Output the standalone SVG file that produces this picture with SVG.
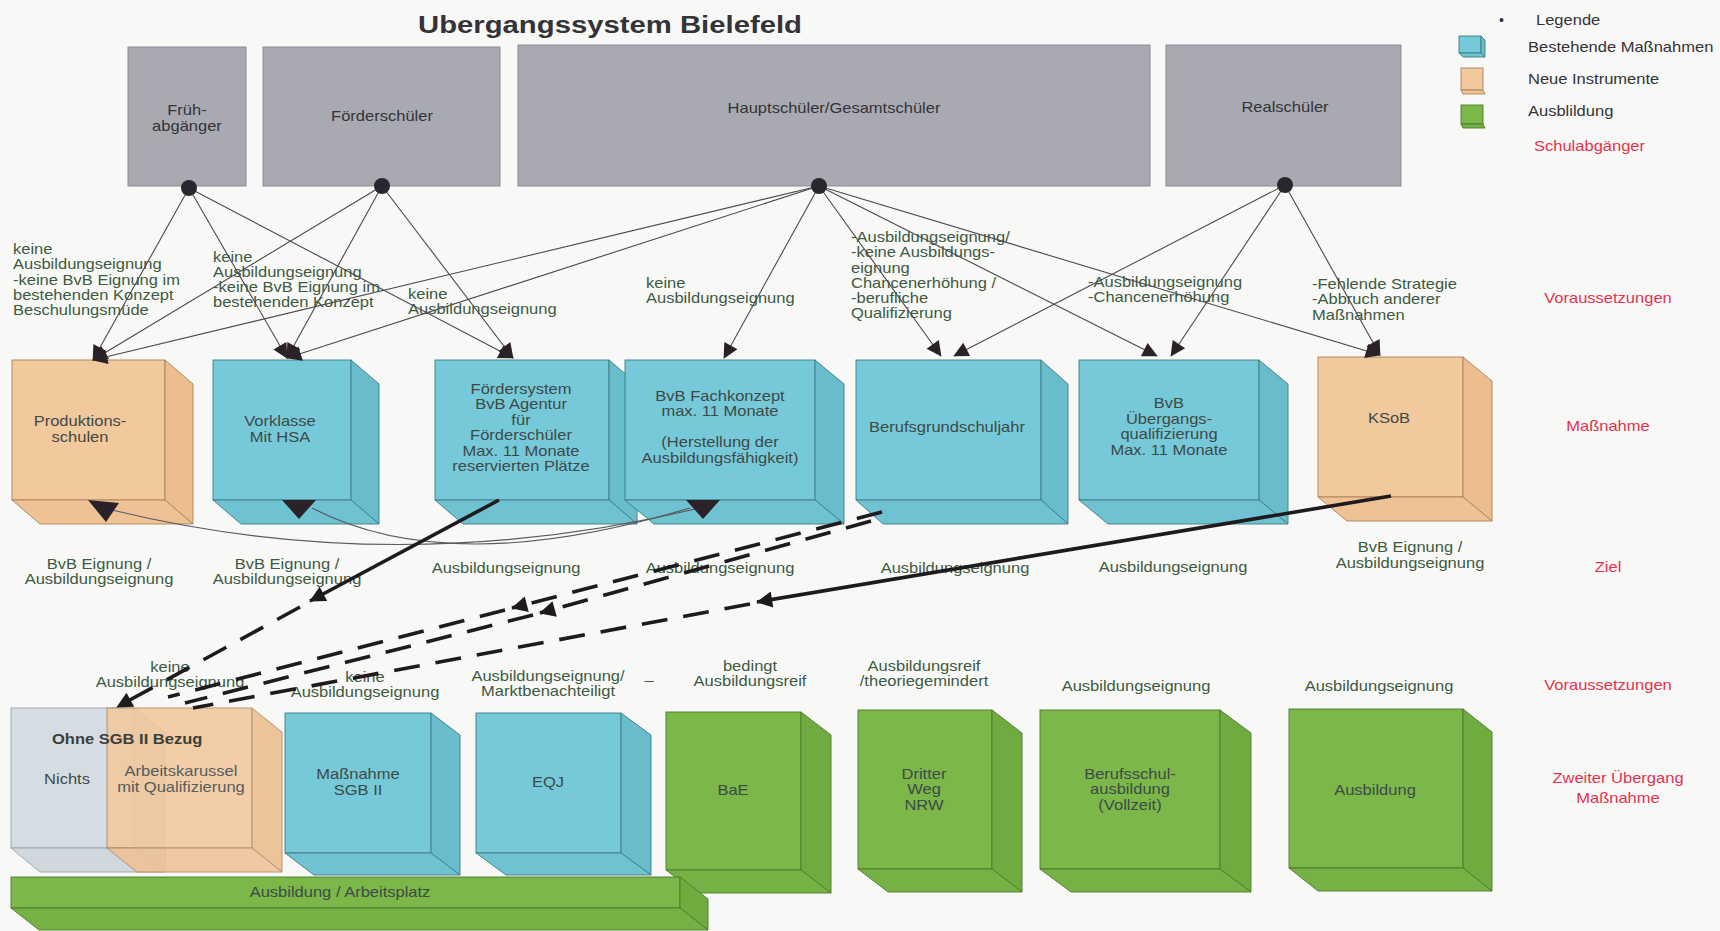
<svg xmlns="http://www.w3.org/2000/svg" width="1720" height="931" viewBox="0 0 1720 931">
<style>
text{font-family:"Liberation Sans",Arial,sans-serif;font-size:14px}
.t{fill:#333338}
.lbl{fill:#3d5a42}
.bx{fill:#3e4a48;text-anchor:middle}
.c{text-anchor:middle}
.red{fill:#e3334f;text-anchor:middle}
.top{fill:#a9aab1;stroke:#8b8c93;stroke-width:1}
.bf{fill:#76c9d8}.bs{fill:#69bccb}.bb{fill:#6ec2d1}
.of{fill:#f2c89d}.os{fill:#ecbd8e}.ob{fill:#efc296}
.gf{fill:#7bb749}.gs{fill:#6fab3f}.gb{fill:#75b144}
.lf{fill:#d6dde2}.ls{fill:#ccd4da}.lb{fill:#d0d8dd}
.blue polygon,.blue rect{stroke:#3f7d85;stroke-width:0.9}
.orange polygon,.orange rect{stroke:#a9825a;stroke-width:0.9}
.green polygon,.green rect{stroke:#4c7a2c;stroke-width:0.9}
.grey polygon,.grey rect{stroke:#9aa4aa;stroke-width:0.9}
.thin{fill:none;stroke:#4a4a4e;stroke-width:1.1}
.curve{fill:none;stroke:#5a5a5e;stroke-width:1.2}
.thick{fill:none;stroke:#1e1a1e;stroke-width:3.6}
.dash{fill:none;stroke:#1e1a1e;stroke-width:3.6;stroke-dasharray:26 16}
.ah{fill:#2a2228}
</style>
<defs>
<marker id="m" viewBox="0 0 10 10" refX="9.5" refY="5" markerWidth="18" markerHeight="15" markerUnits="userSpaceOnUse" orient="auto"><path d="M0,0 L10,5 L0,10 z" fill="#2a2228"/></marker>
<marker id="mt" viewBox="0 0 10 10" refX="9.5" refY="5" markerWidth="22" markerHeight="16" markerUnits="userSpaceOnUse" orient="auto"><path d="M0,0 L10,5 L0,10 z" fill="#1e1a1e"/></marker>
</defs>
<rect x="0" y="0" width="1720" height="931" fill="#f8f8f6"/>

<text class="t c" transform="translate(610,33) scale(1.22,1)" style="font-size:24px;font-weight:bold">Ubergangssystem Bielefeld</text>

<!-- top nodes -->
<g id="fruehabgaenger"><rect class="top" x="128" y="47" width="118" height="139"/><text class="t c" transform="translate(187,115) scale(1.18,1)"><tspan x="0">Früh-</tspan><tspan x="0" dy="16">abgänger</tspan></text></g>
<g id="foerderschueler"><rect class="top" x="263" y="47" width="237" height="139"/><text class="t c" transform="translate(382,121) scale(1.18,1)">Förderschüler</text></g>
<g id="hauptschueler"><rect class="top" x="518" y="45" width="632" height="141"/><text class="t c" transform="translate(834,113) scale(1.18,1)">Hauptschüler/Gesamtschüler</text></g>
<g id="realschueler"><rect class="top" x="1166" y="45" width="235" height="141"/><text class="t c" transform="translate(1285,112) scale(1.18,1)">Realschüler</text></g>

<!-- legend -->
<g id="legend">
<text class="t" x="1499" y="25">•</text>
<text class="t" transform="translate(1536,25) scale(1.18,1)">Legende</text>
<g class="blue"><rect class="bf" x="1459" y="36" width="22" height="17"/><polygon class="bs" points="1481,36 1485,40 1485,57 1481,53"/><polygon class="bb" points="1459,53 1481,53 1485,57 1463,57"/></g>
<text class="t" transform="translate(1528,52) scale(1.18,1)">Bestehende Maßnahmen</text>
<g class="orange"><rect class="of" x="1461" y="68" width="22" height="22"/><polygon class="ob" points="1461,90 1483,90 1485,94 1463,94"/></g>
<text class="t" transform="translate(1528,84) scale(1.18,1)">Neue Instrumente</text>
<g class="green"><rect class="gf" x="1461" y="105" width="22" height="19"/><polygon class="gb" points="1461,124 1483,124 1485,128 1463,128"/></g>
<text class="t" transform="translate(1528,116) scale(1.18,1)">Ausblildung</text>
<text class="red" style="text-anchor:start" transform="translate(1534,151) scale(1.18,1)">Schulabgänger</text>
</g>

<!-- row labels -->
<g id="rowlabels">
<text class="red" transform="translate(1608,303) scale(1.18,1)">Voraussetzungen</text>
<text class="red" transform="translate(1608,431) scale(1.18,1)">Maßnahme</text>
<text class="red" transform="translate(1608,572) scale(1.18,1)">Ziel</text>
<text class="red" transform="translate(1608,690) scale(1.18,1)">Voraussetzungen</text>
<text class="red" transform="translate(1618,783) scale(1.18,1)"><tspan x="0">Zweiter Übergang</tspan><tspan x="0" dy="20">Maßnahme</tspan></text>
</g>

<!-- middle row nodes -->
<g id="produktionsschulen" class="orange"><rect class="of" x="12" y="360" width="153" height="140"/><polygon class="os" points="165,360 193,384 193,524 165,500"/><polygon class="ob" points="12,500 165,500 193,524 40,524"/><text class="bx" transform="translate(80,426) scale(1.18,1)"><tspan x="0">Produktions-</tspan><tspan x="0" dy="16">schulen</tspan></text></g>
<g id="vorklasse" class="blue"><rect class="bf" x="213" y="360" width="138" height="140"/><polygon class="bs" points="351,360 379,384 379,524 351,500"/><polygon class="bb" points="213,500 351,500 379,524 241,524"/><text class="bx" transform="translate(280,426) scale(1.18,1)"><tspan x="0">Vorklasse</tspan><tspan x="0" dy="16">Mit HSA</tspan></text></g>
<g id="foerdersystem" class="blue"><rect class="bf" x="435" y="360" width="174" height="140"/><polygon class="bs" points="609,360 637,384 637,524 609,500"/><polygon class="bb" points="435,500 609,500 637,524 463,524"/><text class="bx" transform="translate(521,394) scale(1.18,1)"><tspan x="0">Fördersystem</tspan><tspan x="0" dy="15.4">BvB Agentur</tspan><tspan x="0" dy="15.4">für</tspan><tspan x="0" dy="15.4">Förderschüler</tspan><tspan x="0" dy="15.4">Max. 11 Monate</tspan><tspan x="0" dy="15.4">reservierten Plätze</tspan></text></g>
<g id="bvb-fachkonzept" class="blue"><rect class="bf" x="625" y="360" width="190" height="140"/><polygon class="bs" points="815,360 844,384 844,524 815,500"/><polygon class="bb" points="625,500 815,500 844,524 654,524"/><text class="bx" transform="translate(720,401) scale(1.18,1)"><tspan x="0">BvB Fachkonzept</tspan><tspan x="0" dy="15.4">max. 11 Monate</tspan><tspan x="0" dy="30.8">(Herstellung der</tspan><tspan x="0" dy="15.4">Ausbildungsfähigkeit)</tspan></text></g>
<g id="berufsgrundschuljahr" class="blue"><rect class="bf" x="856" y="360" width="185" height="140"/><polygon class="bs" points="1041,360 1068,384 1068,524 1041,500"/><polygon class="bb" points="856,500 1041,500 1068,524 883,524"/><text class="bx" transform="translate(947,432) scale(1.18,1)">Berufsgrundschuljahr</text></g>
<g id="bvb-uebergang" class="blue"><rect class="bf" x="1079" y="360" width="180" height="140"/><polygon class="bs" points="1259,360 1288,384 1288,524 1259,500"/><polygon class="bb" points="1079,500 1259,500 1288,524 1108,524"/><text class="bx" transform="translate(1169,408) scale(1.18,1)"><tspan x="0">BvB</tspan><tspan x="0" dy="15.6">Übergangs-</tspan><tspan x="0" dy="15.6">qualifizierung</tspan><tspan x="0" dy="15.6">Max. 11 Monate</tspan></text></g>
<g id="ksob" class="orange"><rect class="of" x="1318" y="357" width="145" height="140"/><polygon class="os" points="1463,357 1492,381 1492,521 1463,497"/><polygon class="ob" points="1318,497 1463,497 1492,521 1347,521"/><text class="bx" transform="translate(1389,423) scale(1.18,1)">KSoB</text></g>

<!-- bottom row nodes -->
<g id="nichts" class="grey"><rect class="lf" x="11" y="708" width="123" height="140"/><polygon class="ls" points="134,708 165,732 165,872 134,848"/><polygon class="lb" points="11,848 134,848 165,872 40,872"/><text class="bx" transform="translate(67,784) scale(1.18,1)">Nichts</text></g>
<g id="arbeitskarussel" class="orange" opacity="0.88"><rect class="of" x="107" y="708" width="145" height="140"/><polygon class="os" points="252,708 282,732 282,872 252,848"/><polygon class="ob" points="107,848 252,848 282,872 137,872"/><text class="bx" transform="translate(181,776) scale(1.18,1)"><tspan x="0">Arbeitskarussel</tspan><tspan x="0" dy="16">mit Qualifizierung</tspan></text></g>
<text class="t" transform="translate(52,744) scale(1.18,1)" style="font-weight:bold;fill:#3a3f3c">Ohne SGB II Bezug</text>
<g id="massnahme-sgb2" class="blue"><rect class="bf" x="285" y="713" width="146" height="140"/><polygon class="bs" points="431,713 460,735 460,875 431,853"/><polygon class="bb" points="285,853 431,853 460,875 314,875"/><text class="bx" transform="translate(358,779) scale(1.18,1)"><tspan x="0">Maßnahme</tspan><tspan x="0" dy="16">SGB II</tspan></text></g>
<g id="eqj" class="blue"><rect class="bf" x="476" y="713" width="145" height="140"/><polygon class="bs" points="621,713 651,735 651,875 621,853"/><polygon class="bb" points="476,853 621,853 651,875 506,875"/><text class="bx" transform="translate(548,787) scale(1.18,1)">EQJ</text></g>
<g id="bae" class="green"><rect class="gf" x="666" y="712" width="135" height="158"/><polygon class="gs" points="801,712 831,735 831,893 801,870"/><polygon class="gb" points="666,870 801,870 831,893 696,893"/><text class="bx" transform="translate(733,795) scale(1.18,1)">BaE</text></g>
<g id="ausbildung-arbeitsplatz" class="green"><rect class="gf" x="11" y="877" width="669" height="31"/><polygon class="gs" points="680,877 708,899 708,930 680,908"/><polygon class="gb" points="11,908 680,908 708,930 39,930"/><text class="bx" transform="translate(340,897) scale(1.18,1)">Ausbildung / Arbeitsplatz</text></g>
<g id="dritter-weg" class="green"><rect class="gf" x="858" y="710" width="134" height="159"/><polygon class="gs" points="992,710 1022,733 1022,892 992,869"/><polygon class="gb" points="858,869 992,869 1022,892 888,892"/><text class="bx" transform="translate(924,779) scale(1.18,1)"><tspan x="0">Dritter</tspan><tspan x="0" dy="15.5">Weg</tspan><tspan x="0" dy="15.5">NRW</tspan></text></g>
<g id="berufsschulausbildung" class="green"><rect class="gf" x="1040" y="710" width="180" height="159"/><polygon class="gs" points="1220,710 1251,733 1251,892 1220,869"/><polygon class="gb" points="1040,869 1220,869 1251,892 1071,892"/><text class="bx" transform="translate(1130,779) scale(1.18,1)"><tspan x="0">Berufsschul-</tspan><tspan x="0" dy="15.5">ausbildung</tspan><tspan x="0" dy="15.5">(Vollzeit)</tspan></text></g>
<g id="ausbildung" class="green"><rect class="gf" x="1289" y="709" width="174" height="159"/><polygon class="gs" points="1463,709 1492,732 1492,891 1463,868"/><polygon class="gb" points="1289,868 1463,868 1492,891 1318,891"/><text class="bx" transform="translate(1375,795) scale(1.18,1)">Ausbildung</text></g>

<!-- labels: Voraussetzungen (upper) -->
<g id="labels-upper">
<text class="lbl" transform="translate(13,254) scale(1.18,1)"><tspan x="0">keine</tspan><tspan x="0" dy="15.3">Ausbildungseignung</tspan><tspan x="0" dy="15.3">-keine BvB Eignung im</tspan><tspan x="0" dy="15.3">bestehenden Konzept</tspan><tspan x="0" dy="15.3">Beschulungsmüde</tspan></text>
<text class="lbl" transform="translate(213,262) scale(1.18,1)"><tspan x="0">keine</tspan><tspan x="0" dy="15">Ausbildungseignung</tspan><tspan x="0" dy="15">-keine BvB Eignung im</tspan><tspan x="0" dy="15">bestehenden Konzept</tspan></text>
<text class="lbl" transform="translate(408,299) scale(1.18,1)"><tspan x="0">keine</tspan><tspan x="0" dy="15.5">Ausbildungseignung</tspan></text>
<text class="lbl" transform="translate(646,288) scale(1.18,1)"><tspan x="0">keine</tspan><tspan x="0" dy="15.5">Ausbildungseignung</tspan></text>
<text class="lbl" transform="translate(851,242) scale(1.18,1)"><tspan x="0">-Ausbildungseignung/</tspan><tspan x="0" dy="15.3">-keine Ausbildungs-</tspan><tspan x="0" dy="15.3">eignung</tspan><tspan x="0" dy="15.3">Chancenerhöhung /</tspan><tspan x="0" dy="15.3">-berufliche</tspan><tspan x="0" dy="15.3">Qualifizierung</tspan></text>
<text class="lbl" transform="translate(1088,287) scale(1.18,1)"><tspan x="0">-Ausbildungseignung</tspan><tspan x="0" dy="15.5">-Chancenerhöhung</tspan></text>
<text class="lbl" transform="translate(1312,289) scale(1.18,1)"><tspan x="0">-Fehlende Strategie</tspan><tspan x="0" dy="15.5">-Abbruch anderer</tspan><tspan x="0" dy="15.5">Maßnahmen</tspan></text>
</g>

<!-- labels: Ziel -->
<g id="labels-ziel">
<text class="lbl c" transform="translate(99,569) scale(1.18,1)"><tspan x="0">BvB Eignung /</tspan><tspan x="0" dy="15.5">Ausbildungseignung</tspan></text>
<text class="lbl c" transform="translate(287,569) scale(1.18,1)"><tspan x="0">BvB Eignung /</tspan><tspan x="0" dy="15.5">Ausbildungseignung</tspan></text>
<text class="lbl c" transform="translate(506,573) scale(1.18,1)">Ausbildungseignung</text>
<text class="lbl c" transform="translate(720,573) scale(1.18,1)">Ausbildungseignung</text>
<text class="lbl c" transform="translate(955,573) scale(1.18,1)">Ausbildungseignung</text>
<text class="lbl c" transform="translate(1173,572) scale(1.18,1)">Ausbildungseignung</text>
<text class="lbl c" transform="translate(1410,552) scale(1.18,1)"><tspan x="0">BvB Eignung /</tspan><tspan x="0" dy="16">Ausbildungseignung</tspan></text>
</g>

<!-- labels: Voraussetzungen (lower) -->
<g id="labels-lower">
<text class="lbl c" transform="translate(170,672) scale(1.18,1)"><tspan x="0">keine</tspan><tspan x="0" dy="15.5">Ausbildungseignung</tspan></text>
<text class="lbl c" transform="translate(365,682) scale(1.18,1)"><tspan x="0">keine</tspan><tspan x="0" dy="15.5">Ausbildungseignung</tspan></text>
<text class="lbl c" transform="translate(548,681) scale(1.18,1)"><tspan x="0">Ausbildungseignung/</tspan><tspan x="0" dy="15.5">Marktbenachteiligt</tspan></text>
<text class="lbl c" transform="translate(649,685) scale(1.18,1)">–</text>
<text class="lbl c" transform="translate(750,671) scale(1.18,1)"><tspan x="0">bedingt</tspan><tspan x="0" dy="15.5">Ausbildungsreif</tspan></text>
<text class="lbl c" transform="translate(924,671) scale(1.18,1)"><tspan x="0">Ausbildungsreif</tspan><tspan x="0" dy="15.5">/theoriegemindert</tspan></text>
<text class="lbl c" transform="translate(1136,691) scale(1.18,1)">Ausbildungseignung</text>
<text class="lbl c" transform="translate(1379,691) scale(1.18,1)">Ausbildungseignung</text>
</g>

<!-- connectors -->
<g id="connectors">
<line class="thin" x1="189" y1="188" x2="93" y2="360" marker-end="url(#m)"/>
<line class="thin" x1="189" y1="188" x2="287" y2="358" marker-end="url(#m)"/>
<line class="thin" x1="189" y1="188" x2="513" y2="358" marker-end="url(#m)"/>
<line class="thin" x1="382" y1="186" x2="93" y2="360" marker-end="url(#m)"/>
<line class="thin" x1="382" y1="186" x2="287" y2="358" marker-end="url(#m)"/>
<line class="thin" x1="382" y1="186" x2="513" y2="358" marker-end="url(#m)"/>
<line class="thin" x1="819" y1="186" x2="93" y2="360" marker-end="url(#m)"/>
<line class="thin" x1="819" y1="186" x2="287" y2="358" marker-end="url(#m)"/>
<line class="thin" x1="819" y1="186" x2="724" y2="358" marker-end="url(#m)"/>
<line class="thin" x1="819" y1="186" x2="941" y2="356" marker-end="url(#m)"/>
<line class="thin" x1="819" y1="186" x2="1157" y2="356" marker-end="url(#m)"/>
<line class="thin" x1="819" y1="186" x2="1380" y2="355" marker-end="url(#m)"/>
<line class="thin" x1="1285" y1="185" x2="954" y2="356" marker-end="url(#m)"/>
<line class="thin" x1="1285" y1="185" x2="1171" y2="356" marker-end="url(#m)"/>
<line class="thin" x1="1285" y1="185" x2="1380" y2="355" marker-end="url(#m)"/>
<circle cx="189" cy="188" r="8" fill="#2a2630"/>
<circle cx="382" cy="186" r="8" fill="#2a2630"/>
<circle cx="819" cy="186" r="8" fill="#2a2630"/>
<circle cx="1285" cy="185" r="8" fill="#2a2630"/>

<path class="curve" d="M112,510 Q400,580 700,508"/>
<path class="curve" d="M312,508 Q450,580 690,508"/>
<polygon class="ah" points="88,500 119,503 106,522"/>
<polygon class="ah" points="282,500 316,500 299,519"/>
<polygon class="ah" points="686,500 720,500 703,519"/>

<line class="thick" x1="499" y1="500" x2="310" y2="601" marker-end="url(#mt)"/>
<line class="dash" x1="300" y1="607" x2="117" y2="707" marker-end="url(#mt)"/>
<line class="dash" x1="882" y1="512" x2="512" y2="608" marker-end="url(#mt)"/>
<line class="dash" x1="505" y1="610" x2="168" y2="697"/>
<line class="dash" x1="871" y1="521" x2="540" y2="613" marker-end="url(#mt)"/>
<line class="dash" x1="533" y1="615" x2="185" y2="703"/>
<line class="thick" x1="1391" y1="496" x2="757" y2="602" marker-end="url(#mt)"/>
<line class="dash" x1="750" y1="604" x2="193" y2="708"/>
</g>
</svg>
